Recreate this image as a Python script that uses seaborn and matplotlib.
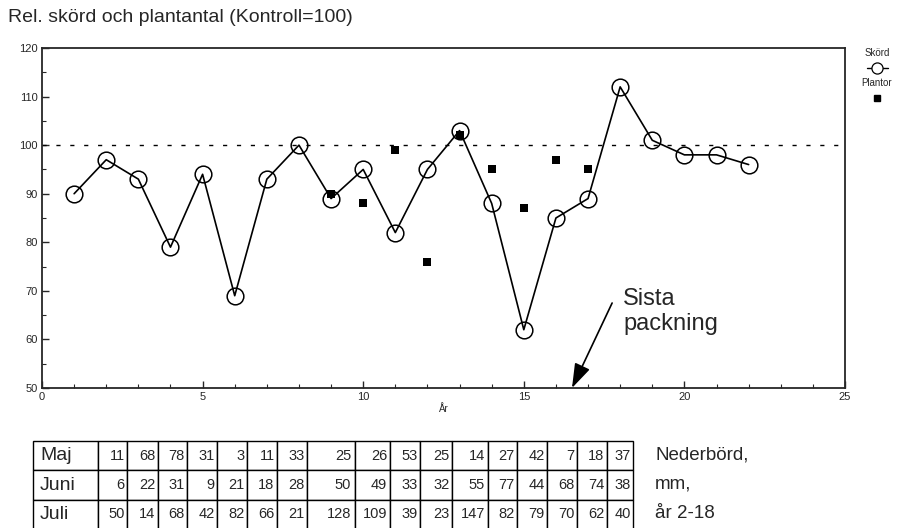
import numpy as np
import pandas as pd
import matplotlib
matplotlib.use("Agg")
import matplotlib.pyplot as plt
from matplotlib.lines import Line2D
from matplotlib.ticker import MultipleLocator
import seaborn as sns

# Relative yield (Skörd) per year, control = 100
years = [1, 2, 3, 4, 5, 6, 7, 8, 9, 10, 11, 12, 13, 14, 15, 16, 17, 18, 19, 20, 21, 22]
skord = [90, 97, 93, 79, 94, 69, 93, 100, 89, 95, 82, 95, 103, 88, 62, 85, 89, 112, 101, 98, 98, 96]

# Relative plant count (Plantor)
plant_years = [9, 10, 11, 12, 13, 14, 15, 16, 17]
plantor = [90, 88, 99, 76, 102, 95, 87, 97, 95]

# Precipitation table, mm, years 2-18
months = ["Maj", "Juni", "Juli"]
rain_maj = [11, 68, 78, 31, 3, 11, 33, 25, 26, 53, 25, 14, 27, 42, 7, 18, 37]
rain_juni = [6, 22, 31, 9, 21, 18, 28, 50, 49, 33, 32, 55, 77, 44, 68, 74, 38]
rain_juli = [50, 14, 68, 42, 82, 66, 21, 128, 109, 39, 23, 147, 82, 79, 70, 62, 40]

sns.set_style("ticks")
plt.rcParams["font.family"] = ["Liberation Sans", "DejaVu Sans"]
plt.rcParams["xtick.direction"] = "in"
plt.rcParams["ytick.direction"] = "in"

fig = plt.figure(figsize=(8.97, 5.28), dpi=100)
ax = fig.add_axes([42 / 897, 1 - 388 / 528, 803 / 897, 340 / 528])

df_s = pd.DataFrame({"År": years, "Skörd": skord})
df_p = pd.DataFrame({"År": plant_years, "Plantor": plantor})

ax.axhline(100, color="black", lw=1.0, ls=(0, (3, 7)), zorder=1)
sns.lineplot(data=df_s, x="År", y="Skörd", ax=ax, color="black", lw=1.2,
             marker="o", markersize=12, markerfacecolor="none",
             markeredgecolor="black", markeredgewidth=1.1, zorder=3)
sns.scatterplot(data=df_p, x="År", y="Plantor", ax=ax, color="black",
                marker="s", s=30, edgecolor="black", linewidth=0, zorder=4)

ax.set_xlim(0, 25)
ax.set_ylim(50, 120)
ax.xaxis.set_major_locator(MultipleLocator(5))
ax.xaxis.set_minor_locator(MultipleLocator(1))
ax.yaxis.set_major_locator(MultipleLocator(10))
ax.yaxis.set_minor_locator(MultipleLocator(5))
ax.tick_params(which="major", length=5, width=1, labelsize=8, pad=3)
ax.tick_params(which="minor", length=3, width=0.8)
for sp in ax.spines.values():
    sp.set_visible(True)
    sp.set_linewidth(1.3)
ax.set_ylabel("")
ax.set_xlabel("År", fontsize=7, labelpad=1)

# Last soil compaction marker
ax.annotate("", xy=(16.5, 50), xytext=(17.75, 67.5),
            arrowprops=dict(arrowstyle="-|>,head_length=1.5,head_width=0.5",
                            color="black", lw=1.2, shrinkA=0, shrinkB=0))
ax.text(18.1, 70.5, "Sista\npackning", fontsize=17, ha="left", va="top",
        linespacing=1.15)

fig.text(8 / 897, 1 - 18 / 528, "Rel. skörd och plantantal (Kontroll=100)",
         fontsize=14, ha="left", va="center")

# Legend beside the plot
lx = 877 / 897
fig.text(lx, 1 - 53 / 528, "Skörd", fontsize=7, ha="center", va="center")
fig.add_artist(Line2D([867 / 897, 888 / 897], [1 - 68 / 528] * 2, color="black",
                      lw=1.0, transform=fig.transFigure))
fig.add_artist(Line2D([lx], [1 - 68 / 528], marker="o", markersize=8,
                      markerfacecolor="white", markeredgecolor="black",
                      markeredgewidth=0.9, transform=fig.transFigure))
fig.text(lx, 1 - 83 / 528, "Plantor", fontsize=7, ha="center", va="center")
fig.add_artist(Line2D([lx], [1 - 98 / 528], marker="s", markersize=5,
                      color="black", lw=0, transform=fig.transFigure))

# Precipitation table
col_px = [65, 29, 31, 29, 30, 30, 30, 30, 48, 35, 30, 32, 36, 29, 30, 30, 30, 26]
total = sum(col_px)
col_w = [c / total for c in col_px]
rows = [rain_maj, rain_juni, rain_juli]
cells = [[m] + [str(v) for v in r] for m, r in zip(months, rows)]

tax = fig.add_axes([33 / 897, 1 - 529 / 528, total / 897, 88 / 528])
tax.axis("off")
tbl = tax.table(cellText=cells, colWidths=col_w, bbox=[0, 0, 1, 1],
                cellLoc="right")
tbl.auto_set_font_size(False)
for (r, c), cell in tbl.get_celld().items():
    cell.set_linewidth(1.0)
    cell.set_edgecolor("black")
    if c == 0:
        cell._loc = "left"
        cell.get_text().set_ha("left")
        cell.get_text().set_fontsize(14)
        cell.PAD = 0.11
    else:
        cell.get_text().set_fontsize(10.5)
        cell.PAD = 0.08

fig.text(655 / 897, 1 - 455 / 528, "Nederbörd,", fontsize=13.5, ha="left", va="center")
fig.text(655 / 897, 1 - 484 / 528, "mm,", fontsize=13.5, ha="left", va="center")
fig.text(655 / 897, 1 - 513 / 528, "år 2-18", fontsize=13.5, ha="left", va="center")

fig.savefig("out.png", dpi=100)
